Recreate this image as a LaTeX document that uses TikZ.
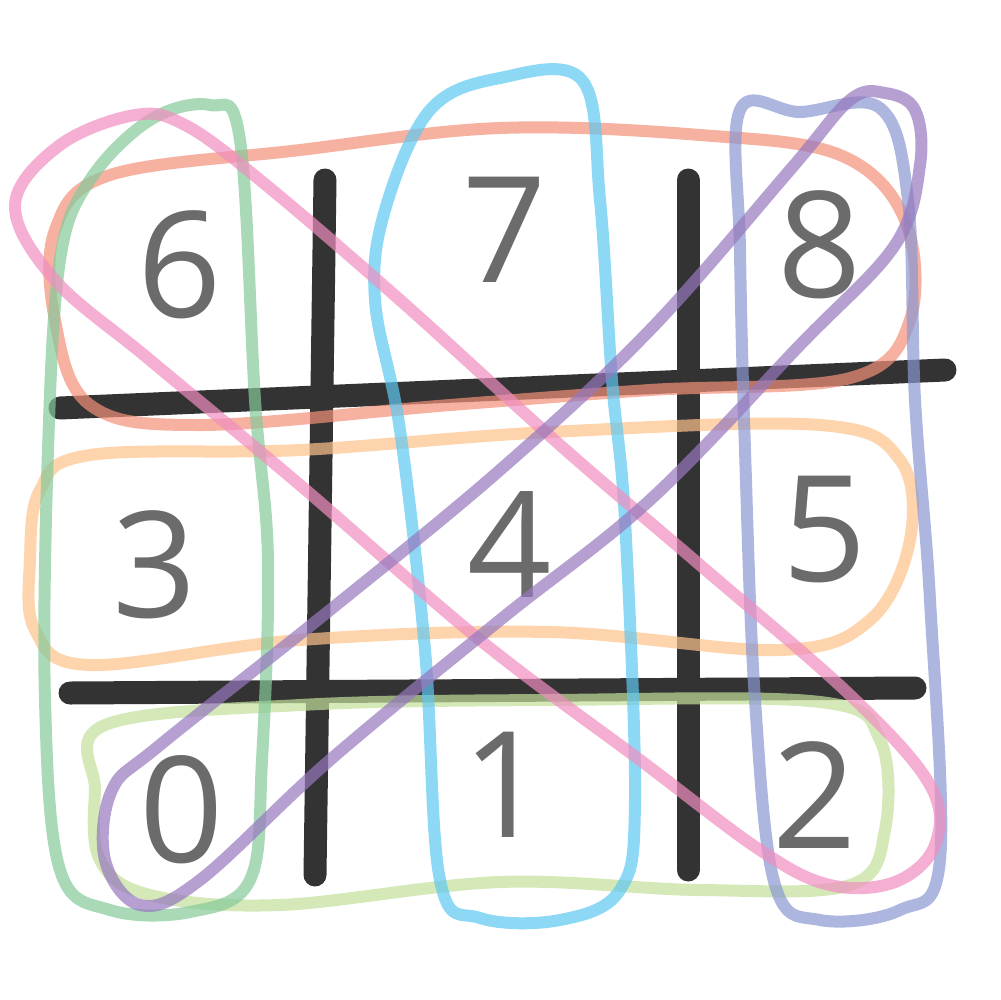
\documentclass[tikz,border=0pt]{standalone}
\usepackage{fontspec}
\setsansfont{Open Sans}
\usepackage{tikz}

\definecolor{gridgray}{HTML}{333333}
\definecolor{digitgray}{HTML}{6B6B6B}
\definecolor{rowtop}{HTML}{F4907A}
\definecolor{rowmid}{HTML}{FDC28A}
\definecolor{rowbot}{HTML}{C4E09A}
\definecolor{colleft}{HTML}{86C99A}
\definecolor{colmid}{HTML}{5EC8F2}
\definecolor{colright}{HTML}{8A98D2}
\definecolor{diagdown}{HTML}{F08EC0}
\definecolor{diagup}{HTML}{9678BE}

\begin{document}
\begin{tikzpicture}[x=0.1mm, y=-0.1mm,
	gridline/.style={draw=gridgray, line width=2.3mm, line cap=round},
	digit/.style={text=digitgray, font=\sffamily\fontsize{42}{42}\selectfont, inner sep=0pt},
	loop/.style={line width=1.2mm, draw opacity=0.7, line cap=round, line join=round}]
	\useasboundingbox[fill=white] (0,0) rectangle (1000,1000);

	% grid
	\draw[gridline] (325,180) -- (315,875);
	\draw[gridline] (688,180) -- (688,870);
	\draw[gridline] (60,408) -- (945,370);
	\draw[gridline] (70,693) -- (915,688);

	% cells
	\node[digit] (six) at (180,265) {6};
	\node[digit] (seven) at (505,230) {7};
	\node[digit] (eight) at (820,245) {8};
	\node[digit] (three) at (155,565) {3};
	\node[digit] (four) at (510,545) {4};
	\node[digit] (five) at (825,530) {5};
	\node[digit] (zero) at (182,810) {0};
	\node[digit] (one) at (505,785) {1};
	\node[digit] (two) at (815,795) {2};

	% rows
	\draw[loop, rowtop] plot[smooth cycle, tension=0.6] coordinates {
		(55,230) (110,175) (300,150) (500,128) (700,135) (840,155) (905,220)
		(910,320) (850,378) (650,390) (450,405) (200,425) (90,405) (55,320)};
	\draw[loop, rowmid] plot[smooth cycle, tension=0.6] coordinates {
		(40,490) (90,455) (300,450) (550,432) (820,425) (900,460) (910,540)
		(870,620) (780,650) (550,632) (300,640) (90,665) (35,630) (30,560)};
	\draw[loop, rowbot] plot[smooth cycle, tension=0.6] coordinates {
		(105,725) (300,705) (550,700) (820,702) (880,740) (885,830)
		(850,885) (700,890) (500,882) (280,905) (150,895) (100,860) (95,790)};

	% columns
	\draw[loop, colleft] plot[smooth cycle, tension=0.6] coordinates {
		(90,180) (150,120) (210,105) (240,140) (255,400) (268,560) (262,760)
		(250,880) (190,912) (110,910) (60,870) (45,700) (48,450) (60,260)};
	\draw[loop, colmid] plot[smooth cycle, tension=0.6] coordinates {
		(385,210) (430,110) (500,78) (582,80) (600,200) (612,380) (625,520)
		(635,800) (620,890) (560,920) (480,918) (440,880) (425,650) (400,430) (375,300)};
	\draw[loop, colright] plot[smooth cycle, tension=0.6] coordinates {
		(740,110) (800,112) (880,108) (908,200) (915,400) (930,600) (940,860)
		(900,910) (820,920) (775,885) (755,700) (745,450) (740,250)};

	% diagonals
	\draw[loop, diagdown] plot[smooth cycle, tension=0.6] coordinates {
		(15,205) (60,145) (135,115) (185,125) (260,180) (400,300) (560,445)
		(700,565) (850,695) (930,785) (935,845) (895,882) (830,885) (760,850)
		(640,760) (480,640) (300,485) (150,360) (55,280)};
	\draw[loop, diagup] plot[smooth cycle, tension=0.6] coordinates {
		(105,860) (112,790) (160,745) (330,610) (500,470) (650,330) (790,170)
		(850,100) (885,93) (915,110) (920,165) (895,245) (800,345) (650,500)
		(500,620) (330,760) (200,880) (140,905)};
\end{tikzpicture}
\end{document}
